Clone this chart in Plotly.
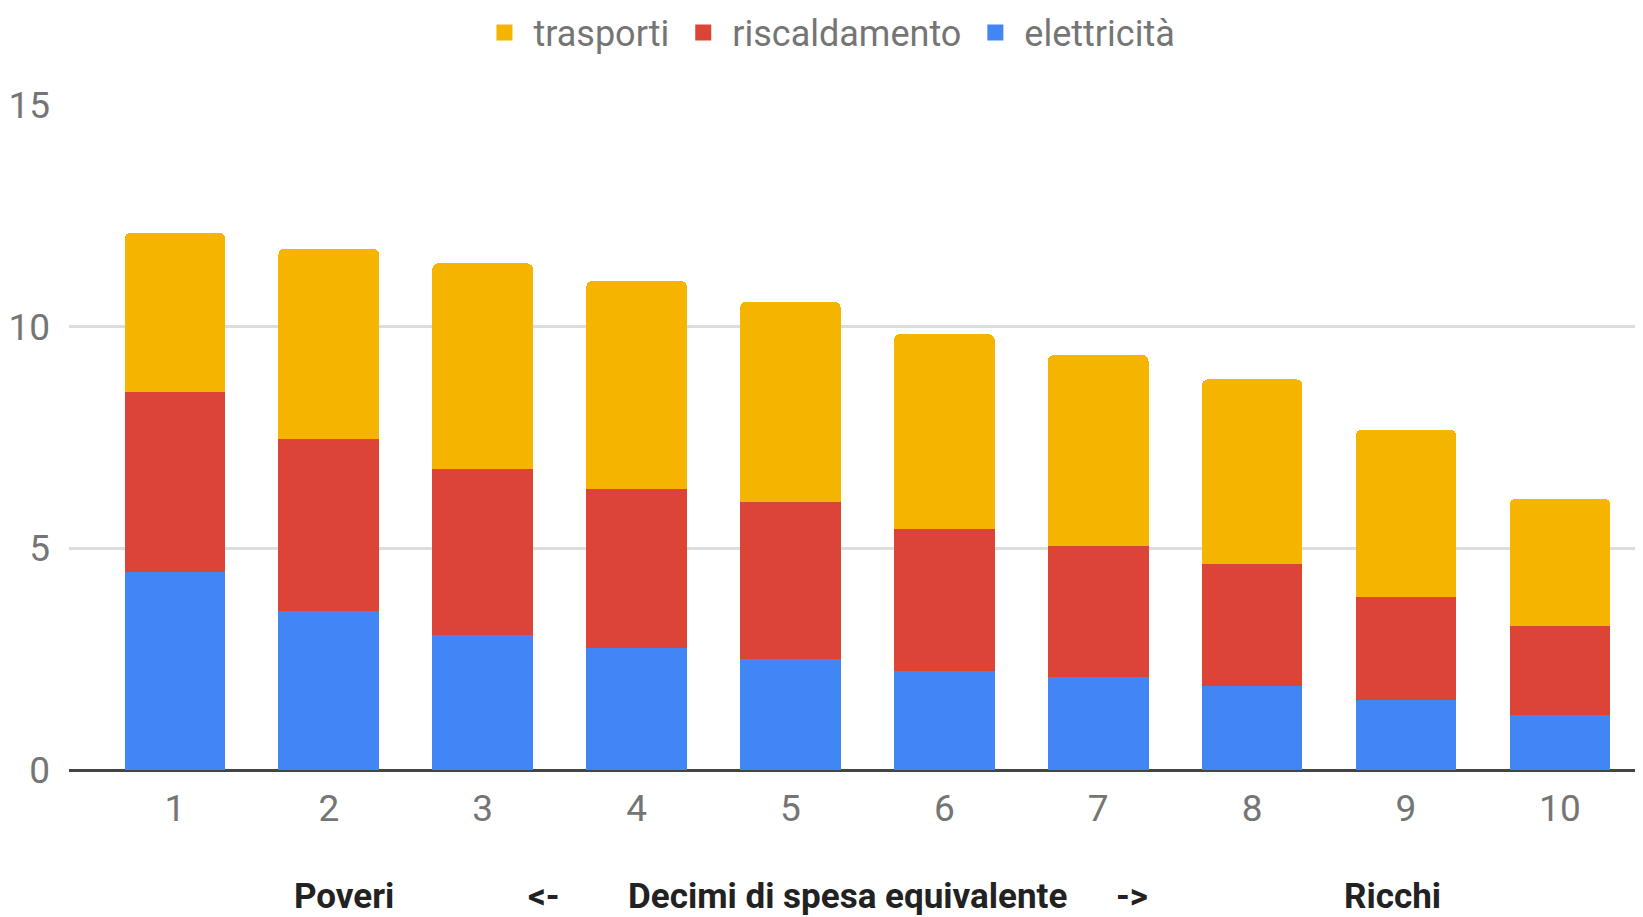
import plotly.graph_objects as go

decili = [1, 2, 3, 4, 5, 6, 7, 8, 9, 10]
elettricita = [4.47, 3.59, 3.05, 2.76, 2.50, 2.24, 2.10, 1.89, 1.58, 1.23]
riscaldamento = [4.06, 3.88, 3.75, 3.57, 3.55, 3.19, 2.96, 2.76, 2.32, 2.01]
trasporti = [3.59, 4.29, 4.63, 4.70, 4.51, 4.40, 4.30, 4.16, 3.78, 2.88]
y_ticks = [0, 5, 10, 15]
titolo_parti = ["Poveri", "<-", "Decimi di spesa equivalente", "->", "Ricchi"]
titolo_pos = [2.10, 3.40, 5.37, 7.22, 8.91]

serie = [("elettricità", elettricita, "#4285F4"),
         ("riscaldamento", riscaldamento, "#DB4437"),
         ("trasporti", trasporti, "#F4B400")]

fig = go.Figure()
for nome, vals, col in serie:
    fig.add_trace(go.Bar(x=decili, y=vals, name=nome, marker_color=col, marker_line_width=0,
                         legendgroup=nome, showlegend=False))
for nome, vals, col in serie:
    fig.add_trace(go.Scatter(x=[None], y=[None], mode="markers", name=nome, legendgroup=nome,
                             marker=dict(symbol="square", size=30, color=col), showlegend=True))

for txt, xp in zip(titolo_parti, titolo_pos):
    fig.add_annotation(x=xp, xref="x", y=0, yref="paper", yanchor="middle", yshift=-126,
                       text="<b>%s</b>" % txt, showarrow=False,
                       font=dict(family="Roboto", size=35, color="#222222"))

fig.update_layout(
    width=1635, height=909,
    margin=dict(l=61, r=0, t=97, b=147),
    paper_bgcolor="white", plot_bgcolor="white",
    barmode="stack", bargap=0.346, barcornerradius=6,
    font=dict(family="Roboto", size=36, color="#757575"),
    legend=dict(orientation="h", traceorder="reversed", xref="container", yref="container",
                x=0.5015, xanchor="center", y=0.973, yanchor="middle", itemsizing="trace",
                font=dict(family="Roboto", size=36, color="#757575"), itemwidth=48),
    xaxis=dict(range=[0.312, 10.54], tickvals=decili, ticktext=[str(d) for d in decili],
               showgrid=False, zeroline=False, showline=False, ticks="", ticklabelstandoff=13,
               tickfont=dict(size=37, color="#757575")),
    yaxis=dict(range=[0, 15], tickvals=y_ticks, showgrid=True, gridcolor="#dddddd", gridwidth=3,
               zeroline=True, zerolinecolor="#444444", zerolinewidth=3, showline=False,
               ticks="", ticklabelstandoff=18, tickfont=dict(size=37, color="#757575")),
    showlegend=True,
)

fig.write_html("out.html")
